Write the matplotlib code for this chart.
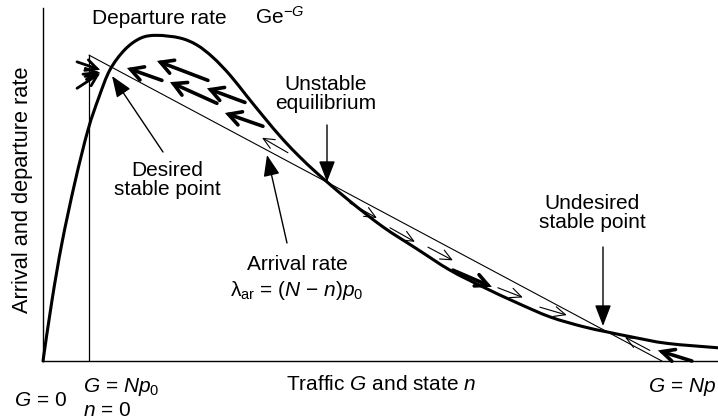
import matplotlib
matplotlib.use("Agg")
import matplotlib.pyplot as plt
from matplotlib.path import Path
from matplotlib.patches import PathPatch, FancyArrowPatch

plt.rcParams['font.family'] = ['Liberation Sans', 'DejaVu Sans']
plt.rcParams['mathtext.fontset'] = 'custom'
plt.rcParams['mathtext.rm'] = 'Liberation Sans'
plt.rcParams['mathtext.it'] = 'Liberation Sans:italic'
plt.rcParams['mathtext.bf'] = 'Liberation Sans:bold'

# ---- data (x = traffic G, y = rate) ----
departure_G = [0.000, 0.086, 0.181, 0.305, 0.429, 0.533, 0.638, 0.781, 0.933, 1.086,
               1.305, 1.467, 1.619, 1.781, 1.943, 2.114, 2.286, 2.448, 2.581, 2.705,
               2.924, 3.238, 3.562, 3.876, 4.190, 4.514, 4.829, 5.143, 5.371, 5.619,
               5.943, 6.429]
departure_rate = [0.000, 0.069, 0.134, 0.203, 0.262, 0.299, 0.330, 0.353, 0.366, 0.369,
                  0.366, 0.358, 0.344, 0.324, 0.300, 0.275, 0.251, 0.231, 0.216, 0.203,
                  0.181, 0.152, 0.127, 0.103, 0.084, 0.066, 0.050, 0.039, 0.033, 0.027,
                  0.020, 0.015]
arrival_G = [0.44, 5.895]
arrival_rate = [0.3465, 0.0]
Np0 = 0.44

# flow arrows: (tail_G, tail_rate, head_G, head_rate)
thick_left_arrows = [
    (1.133, 0.318, 0.800, 0.332),
    (1.571, 0.318, 1.086, 0.340),
    (1.657, 0.292, 1.210, 0.316),
    (1.924, 0.293, 1.562, 0.309),
    (2.095, 0.266, 1.733, 0.281),
]
converge_arrows = [
    (0.324, 0.339, 0.543, 0.330),
    (0.381, 0.325, 0.543, 0.327),
    (0.324, 0.309, 0.543, 0.326),
]
thin_arrows = [
    (2.333, 0.236, 2.086, 0.253),
    (2.924, 0.179, 3.181, 0.162),
    (3.305, 0.151, 3.543, 0.135),
    (3.667, 0.129, 3.905, 0.114),
    (4.333, 0.083, 4.571, 0.072),
    (4.733, 0.061, 4.990, 0.052),
    (5.781, 0.012, 5.543, 0.027),
]
thick_right_arrows = [
    (3.905, 0.103, 4.276, 0.084),
    (6.181, 0.000, 5.857, 0.012),
]

W, H = 718, 420
fig = plt.figure(figsize=(W / 100, H / 100), dpi=100)
ax = fig.add_axes([43 / W, 59 / H, 675 / W, 353 / H])
ax.set_xlim(0, 6.43)
ax.set_ylim(0, 0.40)
for s in ['top', 'right']:
    ax.spines[s].set_visible(False)
for s in ['left', 'bottom']:
    ax.spines[s].set_linewidth(1.0)
ax.set_xticks([])
ax.set_yticks([])


def smooth_path(xs, ys):
    # smooth Bezier path through the read points (Catmull-Rom control handles)
    pts = list(zip(xs, ys))
    n = len(pts)
    verts = [pts[0]]
    codes = [Path.MOVETO]
    for i in range(n - 1):
        p0 = pts[i - 1] if i > 0 else pts[i]
        p1 = pts[i]
        p2 = pts[i + 1]
        p3 = pts[i + 2] if i + 2 < n else pts[i + 1]
        c1 = (p1[0] + (p2[0] - p0[0]) / 6, p1[1] + (p2[1] - p0[1]) / 6)
        c2 = (p2[0] - (p3[0] - p1[0]) / 6, p2[1] - (p3[1] - p1[1]) / 6)
        verts += [c1, c2, p2]
        codes += [Path.CURVE4] * 3
    return Path(verts, codes)


ax.add_patch(PathPatch(smooth_path(departure_G, departure_rate), fill=False,
                       lw=2.2, edgecolor='black', clip_on=False, joinstyle='round',
                       capstyle='round'))
ax.plot(arrival_G, arrival_rate, color='black', lw=0.8, clip_on=False)
ax.plot([Np0, Np0], [0, arrival_rate[0]], color='black', lw=0.9)


def arrow(t, lw, style):
    ax.annotate('', xy=(t[2], t[3]), xytext=(t[0], t[1]),
                arrowprops=dict(arrowstyle=style, lw=lw, color='black',
                                shrinkA=0, shrinkB=0, mutation_scale=20,
                                capstyle='round', joinstyle='miter'),
                annotation_clip=False)


for t in thick_left_arrows:
    arrow(t, 2.6, '->,head_length=0.45,head_width=0.25')
for t in converge_arrows:
    arrow(t, 2.0, '->,head_length=0.4,head_width=0.2')
for t in thick_right_arrows:
    arrow(t, 2.6, '->,head_length=0.45,head_width=0.22')
for t in thin_arrows:
    arrow(t, 0.8, '->,head_length=0.4,head_width=0.18')


def fx(x):
    return x / W


def fy(y):
    return 1 - y / H


fs = 15


def pointer(tail, head):
    fig.add_artist(FancyArrowPatch(
        (fx(tail[0]), fy(tail[1])), (fx(head[0]), fy(head[1])),
        transform=fig.transFigure, arrowstyle='-|>,head_length=0.65,head_width=0.25',
        mutation_scale=20, lw=1.0, color='black', shrinkA=0, shrinkB=0))


pointer((327, 125), (327, 182))
pointer((163, 152), (112, 76))
pointer((287, 243), (267, 155))
pointer((603, 247), (603, 326))

fig.text(fx(92), fy(18), 'Departure rate', fontsize=fs, ha='left', va='center')
fig.text(fx(255), fy(17), r'Ge$^{-G}$', fontsize=fs, ha='left', va='center')
fig.text(fx(326), fy(94), 'Unstable\nequilibrium', fontsize=fs, ha='center', va='center',
         linespacing=1.05)
fig.text(fx(167), fy(180), 'Desired\nstable point', fontsize=fs, ha='center', va='center',
         linespacing=1.05)
fig.text(fx(592), fy(213), 'Undesired\nstable point', fontsize=fs, ha='center', va='center',
         linespacing=1.05)
fig.text(fx(297), fy(265), 'Arrival rate', fontsize=fs, ha='center', va='center')
fig.text(fx(297), fy(291), r'λ$_{\mathrm{ar}}$ = ($N$ − $n$)$p_0$', fontsize=fs,
         ha='center', va='center')
fig.text(fx(23), fy(190), 'Arrival and departure rate', fontsize=15.7, rotation=90,
         ha='center', va='center')
fig.text(fx(40), fy(400), r'$G$ = 0', fontsize=fs, ha='center', va='center')
fig.text(fx(83), fy(387), r'$G$ = $Np_0$', fontsize=fs, ha='left', va='center')
fig.text(fx(83), fy(410), r'$n$ = 0', fontsize=fs, ha='left', va='center')
fig.text(fx(381), fy(385), r'Traffic $G$ and state $n$', fontsize=fs, ha='center', va='center')
fig.text(fx(716), fy(387), r'$G$ = $Np$', fontsize=fs, ha='right', va='center')

fig.savefig('out.png', dpi=100)
